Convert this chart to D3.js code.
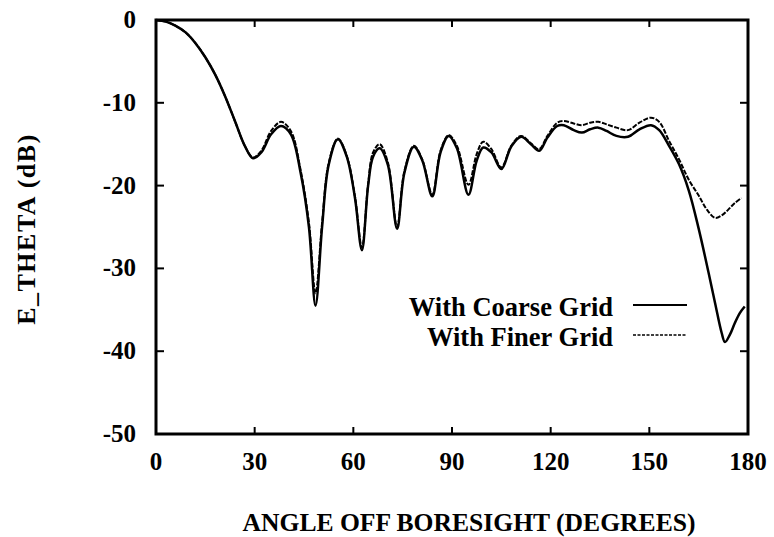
<!DOCTYPE html>
<html>
<head>
<meta charset="utf-8">
<script src="https://cdn.jsdelivr.net/npm/d3@7"></script>
</head>
<body style="margin:0; background:#fff">
<svg width="774" height="537"></svg>
<script>
// angle off boresight (deg) and E_theta (dB)
const coarseAngle = [0, 3, 6, 9, 12, 15, 18, 21, 24, 27, 29.5, 32, 35, 38, 41, 44, 46.5, 48.5, 50.5, 52.5,
  55.3, 58, 60.5, 62.6, 64.5, 66, 68, 70.5, 73.3, 75.5, 78.4, 81, 84, 86.5, 89, 91.5, 95, 97.5, 99.5,
  102, 105, 108, 111, 114, 116.5, 119, 122, 124, 127, 129.5, 132, 134.5, 137, 140, 143.5, 147, 150.5,
  153, 156, 159, 162, 165, 168, 170, 172, 173, 174.5, 176, 177.5, 179];
const coarseDb = [0, -0.2, -0.7, -1.5, -2.8, -4.5, -6.6, -9.2, -12.2, -15.2, -16.7, -16.0, -13.8, -12.8, -13.8, -18.5, -25, -34.5, -25, -17.5,
  -14.4, -16.5, -21.5, -27.8, -20, -16.5, -15.5, -17.5, -25.2, -18.5, -15.3, -17, -21.3, -16, -14, -15.5, -21.1, -17, -15.4,
  -16, -18, -15.3, -14.1, -15, -15.8, -14.2, -12.8, -12.7, -13.3, -13.6, -13.2, -13.0, -13.4, -14, -14.1, -13.2, -12.7,
  -13.3, -15.2, -17.4, -20.6, -25.2, -30.5, -34.2, -37.8, -38.9, -38, -36.6, -35.4, -34.6];

const finerAngle = [0, 3, 6, 9, 12, 15, 18, 21, 24, 27, 29.5, 32, 35, 38, 41, 44, 46.5, 48.5, 50.5, 52.5,
  55.3, 58, 60.5, 62.6, 64.5, 66, 68, 70.5, 73.3, 75.5, 78.4, 81, 84, 86.5, 89, 91.5, 95, 97.5, 99.5,
  102, 105, 108, 111, 114, 116.5, 119, 122, 124, 127, 129.5, 132, 134.5, 137, 140, 143.5, 147, 150.5,
  153, 156, 159, 162, 165, 167.5, 170, 172, 174, 176, 178];
const finerDb = [0, -0.2, -0.7, -1.5, -2.8, -4.5, -6.6, -9.2, -12.2, -15.2, -16.6, -15.8, -13.4, -12.3, -13.4, -18.2, -24.5, -33, -24.5, -17.3,
  -14.3, -16.4, -21.3, -27.5, -19.8, -16.0, -15.0, -17.2, -25.0, -18.3, -15.2, -16.9, -21.1, -15.8, -13.9, -15.2, -19.9, -16.2, -14.7,
  -15.6, -17.8, -15.2, -14.0, -14.9, -15.6, -14.0, -12.4, -12.2, -12.5, -12.7, -12.4, -12.3, -12.6, -13.0, -13.3, -12.4, -11.8,
  -12.3, -14.6, -16.8, -19.3, -21.2, -22.9, -23.9, -23.6, -22.9, -22.1, -21.5];

const xTicks = [0, 30, 60, 90, 120, 150, 180];
const yTicks = [0, -10, -20, -30, -40, -50];
const legendLabels = ["With Coarse Grid", "With Finer Grid"];

const FONT = "Liberation Serif";
const svg = d3.select("svg");

const x = d3.scaleLinear().domain([0, 180]).range([156, 748]);
const y = d3.scaleLinear().domain([-50, 0]).range([434, 20]);

// frame
svg.append("rect")
  .attr("x", x(0)).attr("y", y(0))
  .attr("width", x(180) - x(0)).attr("height", y(-50) - y(0))
  .attr("fill", "none").attr("stroke", "#000").attr("stroke-width", 3);

// inward ticks on all four sides
svg.append("g").selectAll("line").data(yTicks.slice(1, -1)).enter().append("line")
  .attr("x1", x(0)).attr("x2", x(0) + 8)
  .attr("y1", d => y(d)).attr("y2", d => y(d))
  .attr("stroke", "#000").attr("stroke-width", 2);
svg.append("g").selectAll("line").data(yTicks.slice(1, -1)).enter().append("line")
  .attr("x1", x(180)).attr("x2", x(180) - 8)
  .attr("y1", d => y(d)).attr("y2", d => y(d))
  .attr("stroke", "#000").attr("stroke-width", 2);
svg.append("g").selectAll("line").data(xTicks.slice(1, -1)).enter().append("line")
  .attr("x1", d => x(d)).attr("x2", d => x(d))
  .attr("y1", y(-50)).attr("y2", y(-50) - 7)
  .attr("stroke", "#000").attr("stroke-width", 2);
svg.append("g").selectAll("line").data(xTicks.slice(1, -1)).enter().append("line")
  .attr("x1", d => x(d)).attr("x2", d => x(d))
  .attr("y1", y(0)).attr("y2", y(0) + 7)
  .attr("stroke", "#000").attr("stroke-width", 2);

// tick labels
svg.append("g").selectAll("text").data(yTicks).enter().append("text")
  .attr("x", 136).attr("y", d => y(d) + 8)
  .attr("text-anchor", "end")
  .attr("font-family", FONT).attr("font-weight", "bold").attr("font-size", 25)
  .text(d => d);
svg.append("g").selectAll("text").data(xTicks).enter().append("text")
  .attr("x", d => x(d)).attr("y", 470)
  .attr("text-anchor", "middle")
  .attr("font-family", FONT).attr("font-weight", "bold").attr("font-size", 25)
  .text(d => d);

// axis titles
svg.append("text")
  .attr("x", 469).attr("y", 531)
  .attr("text-anchor", "middle")
  .attr("font-family", FONT).attr("font-weight", "bold").attr("font-size", 25.6)
  .text("ANGLE OFF BORESIGHT (DEGREES)");
svg.append("text")
  .attr("transform", "translate(35,229) rotate(-90)")
  .attr("text-anchor", "middle")
  .attr("font-family", FONT).attr("font-weight", "bold").attr("font-size", 26)
  .attr("letter-spacing", 1.5)
  .text("E_THETA (dB)");

// curves
const line = d3.line()
  .x(d => x(d[0])).y(d => y(d[1]))
  .curve(d3.curveCatmullRom.alpha(0.5));

svg.append("path")
  .datum(d3.zip(finerAngle, finerDb))
  .attr("d", line)
  .attr("fill", "none").attr("stroke", "#000").attr("stroke-width", 2)
  .attr("stroke-dasharray", "5,1.5");
svg.append("path")
  .datum(d3.zip(coarseAngle, coarseDb))
  .attr("d", line)
  .attr("fill", "none").attr("stroke", "#000").attr("stroke-width", 2.5);

// legend
const leg = svg.append("g");
leg.selectAll("text").data(legendLabels).enter().append("text")
  .attr("x", 613).attr("y", (d, i) => 316 + i * 30)
  .attr("text-anchor", "end")
  .attr("font-family", FONT).attr("font-weight", "bold").attr("font-size", 26.5)
  .text(d => d);
leg.selectAll("line").data(legendLabels).enter().append("line")
  .attr("x1", 633).attr("x2", 687)
  .attr("y1", (d, i) => 305 + i * 30).attr("y2", (d, i) => 305 + i * 30)
  .attr("stroke", "#000")
  .attr("stroke-width", (d, i) => i ? 1.5 : 2)
  .attr("stroke-dasharray", (d, i) => i ? "3,1.5" : null);
</script>
</body>
</html>
